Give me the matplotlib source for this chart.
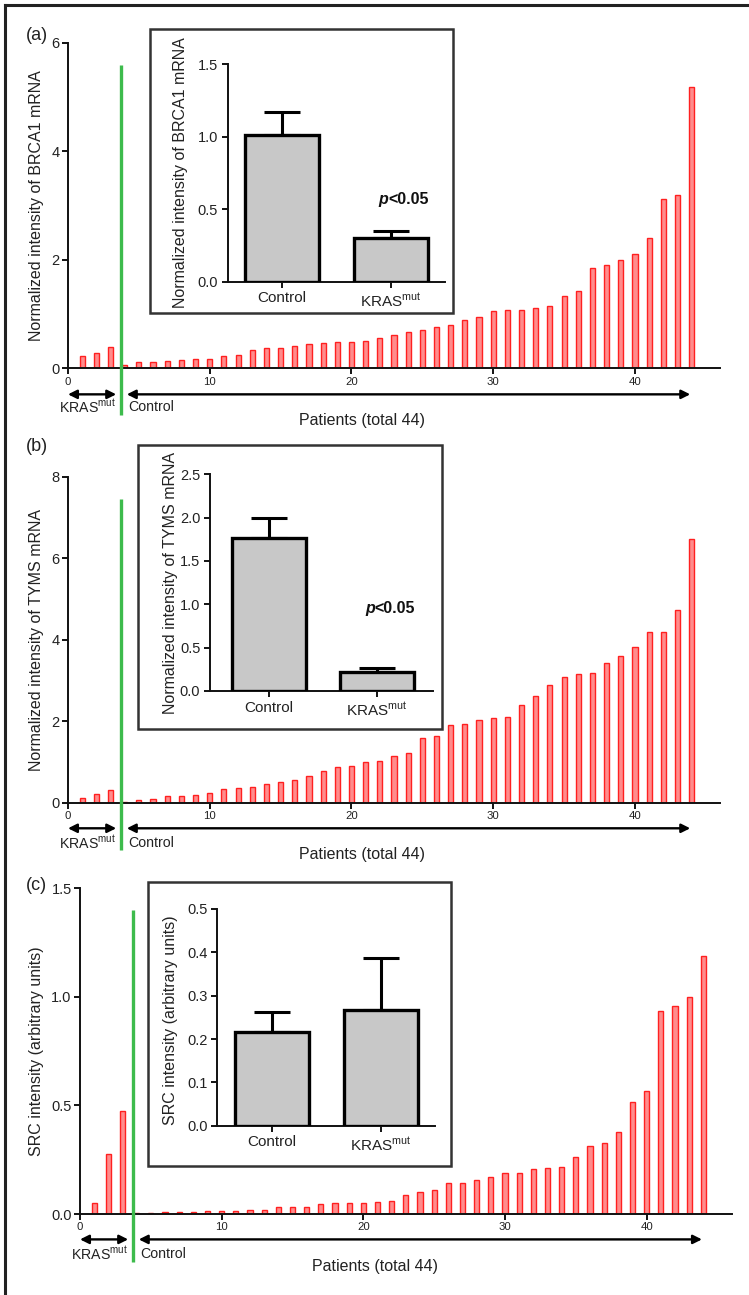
import matplotlib
matplotlib.use('Agg')
import matplotlib.pyplot as plt
from matplotlib.lines import Line2D
from matplotlib.patches import Rectangle
import numpy as np

plt.rcParams['font.family'] = ['Liberation Sans', 'DejaVu Sans']
plt.rcParams['mathtext.fontset'] = 'custom'
plt.rcParams['mathtext.rm'] = 'Liberation Sans'
plt.rcParams['mathtext.it'] = 'Liberation Sans:italic'
plt.rcParams['mathtext.bf'] = 'Liberation Sans:bold'

W, H = 749, 1295

# ---------------- data ----------------
patients = list(range(1, 45))
n_kras = 3
brca1 = [0.23, 0.29, 0.39, 0.06, 0.12, 0.12, 0.13, 0.15, 0.17, 0.17,
         0.23, 0.25, 0.34, 0.37, 0.37, 0.41, 0.44, 0.47, 0.48, 0.48,
         0.50, 0.55, 0.61, 0.66, 0.71, 0.77, 0.79, 0.89, 0.95, 1.05,
         1.07, 1.07, 1.12, 1.14, 1.34, 1.42, 1.85, 1.90, 2.00, 2.11,
         2.41, 3.12, 3.20, 5.19]
tyms = [0.11, 0.22, 0.31, 0.02, 0.07, 0.09, 0.16, 0.17, 0.19, 0.25,
        0.33, 0.37, 0.38, 0.47, 0.52, 0.56, 0.65, 0.77, 0.87, 0.89,
        1.00, 1.02, 1.14, 1.21, 1.59, 1.64, 1.91, 1.93, 2.04, 2.09,
        2.11, 2.39, 2.63, 2.89, 3.08, 3.15, 3.19, 3.42, 3.61, 3.83,
        4.18, 4.18, 4.73, 6.48]
src = [0.052, 0.276, 0.476, 0.005, 0.006, 0.008, 0.009, 0.009, 0.012, 0.012,
       0.015, 0.018, 0.020, 0.031, 0.032, 0.032, 0.048, 0.049, 0.051, 0.052,
       0.057, 0.060, 0.086, 0.103, 0.112, 0.141, 0.141, 0.157, 0.169, 0.187,
       0.187, 0.206, 0.210, 0.218, 0.264, 0.313, 0.326, 0.379, 0.517, 0.568,
       0.937, 0.960, 0.998, 1.188]

groups = ['Control', 'KRAS$^{\\mathrm{mut}}$']
brca1_mean = [1.01, 0.30]
brca1_sem = [0.16, 0.05]
tyms_mean = [1.77, 0.22]
tyms_sem = [0.23, 0.045]
src_mean = [0.217, 0.266]
src_sem = [0.046, 0.122]

main_yticks_a = [0, 2, 4, 6]
main_yticks_b = [0, 2, 4, 6, 8]
main_yticks_c = [0.0, 0.5, 1.0, 1.5]
main_xticks = [0, 10, 20, 30, 40]
inset_yticks_a = [0.0, 0.5, 1.0, 1.5]
inset_yticks_b = [0.0, 0.5, 1.0, 1.5, 2.0, 2.5]
inset_yticks_c = [0.0, 0.1, 0.2, 0.3, 0.4, 0.5]

TXT = '#222222'

# ---------------- helpers ----------------
fig = plt.figure(figsize=(W / 100, H / 100), dpi=100)


def ax_px(x0, x1, yt, yb):
    return fig.add_axes([x0 / W, 1 - yb / H, (x1 - x0) / W, (yb - yt) / H])


def fpos(x, y):
    return x / W, 1 - y / H


def ftext(x, y, s, **kw):
    fx, fy = fpos(x, y)
    fig.text(fx, fy, s, **kw)


def main_panel(rect, values, ylim, yticks, fmt, green_top, green_bot, arrow_y):
    ax = ax_px(*rect)
    ax.bar(patients, values, width=0.36, color='#ff8c8c', edgecolor='#ff2020',
           linewidth=1.0, zorder=2)
    ax.set_xlim(0, 46)
    ax.set_ylim(*ylim)
    ax.set_xticks(main_xticks)
    ax.set_yticks(yticks)
    ax.set_yticklabels([fmt.format(v) for v in yticks], fontsize=10.5, color=TXT)
    ax.set_xticklabels([str(v) for v in main_xticks], fontsize=8.2, color=TXT)
    for s in ['top', 'right']:
        ax.spines[s].set_visible(False)
    for s in ['left', 'bottom']:
        ax.spines[s].set_linewidth(1.4)
        ax.spines[s].set_color('#111111')
    ax.tick_params(axis='both', direction='out', length=4, width=1.3, pad=2)
    ax.patch.set_alpha(0)
    # divider line
    ax.plot([3.72, 3.72], [green_top, green_bot], color='#3dbb4c', lw=2.4,
            clip_on=False, zorder=3, solid_capstyle='butt')
    # arrows
    ax.annotate('', xy=(0.0, arrow_y), xytext=(3.4, arrow_y), xycoords='data',
                arrowprops=dict(arrowstyle='<|-|>', color='black', lw=1.7,
                                shrinkA=0, shrinkB=0, mutation_scale=13),
                annotation_clip=False)
    ax.annotate('', xy=(4.15, arrow_y), xytext=(43.9, arrow_y), xycoords='data',
                arrowprops=dict(arrowstyle='<|-|>', color='black', lw=1.7,
                                shrinkA=0, shrinkB=0, mutation_scale=13),
                annotation_clip=False)
    return ax


def inset_panel(box, rect, xlim, means, sems, ylim, yticks, ylabel, ylabel_xy, ptext=None):
    bx0, bx1, by0, by1 = box
    fx0, fy1 = fpos(bx0, by0)
    fx1, fy0 = fpos(bx1, by1)
    fig.patches.append(Rectangle((fx0, fy0), fx1 - fx0, fy1 - fy0,
                                 transform=fig.transFigure, fill=True,
                                 facecolor='white', edgecolor='#333333', lw=1.8, zorder=5))
    ax = ax_px(*rect)
    ax.set_zorder(6)
    ax.patch.set_alpha(0)
    x = [0, 1]
    ax.errorbar(x, means, yerr=[[0, 0], sems], fmt='none', ecolor='black',
                elinewidth=2.2, capsize=13, capthick=2.2, zorder=2)
    ax.bar(x, means, width=0.68, color='#c8c8c8', edgecolor='black', linewidth=2.4, zorder=3)
    ax.set_xlim(*xlim)
    ax.set_ylim(*ylim)
    ax.set_xticks(x)
    ax.set_xticklabels(groups, fontsize=11, color=TXT)
    ax.set_yticks(yticks)
    ax.set_yticklabels(['{:.1f}'.format(v) for v in yticks], fontsize=10.5, color=TXT)
    for s in ['top', 'right']:
        ax.spines[s].set_visible(False)
    for s in ['left', 'bottom']:
        ax.spines[s].set_linewidth(1.4)
        ax.spines[s].set_color('#111111')
    ax.tick_params(axis='both', direction='out', length=4, width=1.3, pad=3)
    ftext(ylabel_xy[0], ylabel_xy[1], ylabel, rotation=90, ha='center', va='center',
          fontsize=11.5, color=TXT, zorder=7)
    if ptext is not None:
        px, py = ptext
        ax.text(px, py, 'p', fontsize=11.5, fontweight='bold', fontstyle='italic',
                ha='right', va='center', color='#111111', transform=ax.transData)
        ax.text(px, py, '<0.05', fontsize=11.5, fontweight='bold',
                ha='left', va='center', color='#111111', transform=ax.transData)
    return ax


# outer frame (top and left edges visible)
fig.add_artist(Line2D([5 / W, 1.0], [1 - 5 / H, 1 - 5 / H], transform=fig.transFigure,
                      color='#222222', lw=2.2))
fig.add_artist(Line2D([5 / W, 5 / W], [1 - 5 / H, 0.0], transform=fig.transFigure,
                      color='#222222', lw=2.2))

# ---------------- panel (a) ----------------
main_panel((68, 720, 42.7, 368.3), brca1, (0, 6), main_yticks_a, '{:d}',
           5.59, -0.86, -0.48)
ftext(26, 36, '(a)', fontsize=13, ha='left', va='center', color=TXT)
ftext(37, 206, 'Normalized intensity of BRCA1 mRNA', rotation=90, ha='center',
      va='center', fontsize=11.5, color=TXT)
ftext(88, 407, 'KRAS$^{\\mathrm{mut}}$', fontsize=10.2, ha='center', va='center', color=TXT)
ftext(128, 407, 'Control', fontsize=10.2, ha='left', va='center', color=TXT)
ftext(362, 421, 'Patients (total 44)', fontsize=11.5, ha='center', va='center', color=TXT)
inset_panel((150, 452.7, 29.3, 313.3), (227.7, 445, 64.3, 281.7), (-0.5, 1.5),
            brca1_mean, brca1_sem, (0, 1.5), inset_yticks_a,
            'Normalized intensity of BRCA1 mRNA', (180, 172.5), ptext=(0.98, 0.57))

# ---------------- panel (b) ----------------
main_panel((68, 720, 476.7, 802.7), tyms, (0, 8), main_yticks_b, '{:d}',
           7.45, -1.17, -0.628)
ftext(26, 447, '(b)', fontsize=13, ha='left', va='center', color=TXT)
ftext(37, 640, 'Normalized intensity of TYMS mRNA', rotation=90, ha='center',
      va='center', fontsize=11.5, color=TXT)
ftext(88, 843, 'KRAS$^{\\mathrm{mut}}$', fontsize=10.2, ha='center', va='center', color=TXT)
ftext(128, 843, 'Control', fontsize=10.2, ha='left', va='center', color=TXT)
ftext(362, 855, 'Patients (total 44)', fontsize=11.5, ha='center', va='center', color=TXT)
inset_panel((138.3, 441.7, 445, 729), (210, 432.7, 474.3, 691), (-0.546, 1.516),
            tyms_mean, tyms_sem, (0, 2.5), inset_yticks_b,
            'Normalized intensity of TYMS mRNA', (170, 583), ptext=(0.98, 0.95))

# ---------------- panel (c) ----------------
main_panel((80, 731.7, 888.3, 1214), src, (0, 1.5), main_yticks_c, '{:.1f}',
           1.40, -0.22, -0.117)
ftext(26, 885, '(c)', fontsize=13, ha='left', va='center', color=TXT)
ftext(37, 1051, 'SRC intensity (arbitrary units)', rotation=90, ha='center',
      va='center', fontsize=11.5, color=TXT)
ftext(100, 1254, 'KRAS$^{\\mathrm{mut}}$', fontsize=10.2, ha='center', va='center', color=TXT)
ftext(140, 1254, 'Control', fontsize=10.2, ha='left', va='center', color=TXT)
ftext(375, 1266, 'Patients (total 44)', fontsize=11.5, ha='center', va='center', color=TXT)
inset_panel((148.3, 451, 882.3, 1165.7), (217.3, 435, 909, 1125.7), (-0.503, 1.5),
            src_mean, src_sem, (0, 0.5), inset_yticks_c,
            'SRC intensity (arbitrary units)', (170, 1020))

fig.savefig('out.png', dpi=100)
